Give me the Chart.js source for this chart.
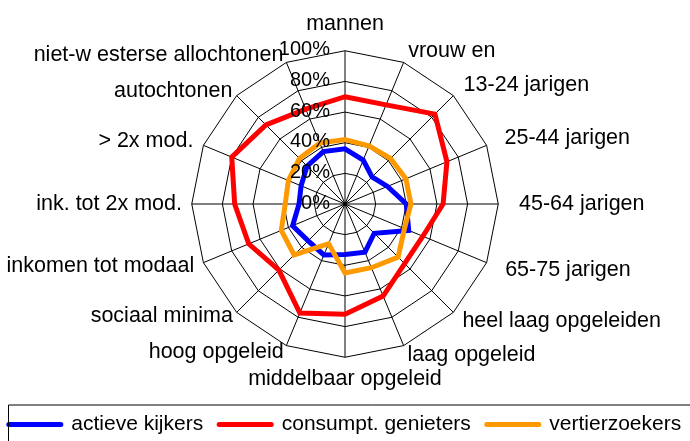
<!DOCTYPE html>
<html>
<head>
<meta charset="utf-8">
<script src="https://cdn.jsdelivr.net/npm/chart.js@4.4.1/dist/chart.umd.min.js"></script>
<style>
  html, body { margin: 0; padding: 0; background: #fff; overflow: hidden; width: 690px; height: 441px; }
  #wrap { position: absolute; left: -45px; top: 0; width: 780px; height: 445px; }
</style>
</head>
<body>
<div id="wrap"><canvas id="c" width="780" height="445"></canvas></div>
<script>
const categories = [
  'mannen', 'vrouw en', '13-24 jarigen', '25-44 jarigen', '45-64 jarigen', '65-75 jarigen',
  'heel laag opgeleiden', 'laag opgeleid', 'middelbaar opgeleid', 'hoog opgeleid',
  'sociaal minima', 'inkomen tot modaal', 'ink. tot 2x mod.', '> 2x mod.',
  'autochtonen', 'niet-w esterse allochtonen'
];
const seriesNames = ['actieve kijkers', 'consumpt. genieters', 'vertierzoekers'];
const actieveKijkers     = [36, 31, 25, 30, 40, 45, 27, 34, 33, 36, 34, 37, 30, 31, 35, 37];
const consumptGenieters  = [70, 70, 83, 72, 64, 55, 55, 65, 72, 77, 61, 68, 72, 80, 73, 67];
const vertierzoekers     = [42, 41, 42, 43, 43, 42, 49, 45, 45, 28, 47, 45, 39, 40, 42, 43];
const tickValues = [0, 20, 40, 60, 80, 100];
const tickLabels = ['0%', '20%', '40%', '60%', '80%', '100%'];

const FONT = "'Liberation Sans', Arial, sans-serif";
Chart.defaults.font.family = FONT;
Chart.defaults.color = '#000';

// label placement styling (per category, clockwise from top)
const labelPadding = [13.35, 11.75, 14.5, 19.4, 20.75, 20.1, 12.75, 10.25, 2.7, 6.75, 5.35, 9.95, 9.75, 10.85, 6.05, 7.65];
const labelLineHeight = ['27.4px', '0.2px', '0.2px', '0.2px', '0.2px', '0.2px', '0.2px', '0.2px', '38px', '0.2px', '0.2px', '0.2px', '0.2px', '0.2px', '0.2px', '0.2px'];

const tickLabelPlugin = {
  id: 'tickLabelPlugin',
  afterDatasetsDraw(chart) {
    const s = chart.scales.r;
    const ctx = chart.ctx;
    ctx.save();
    ctx.font = '20px ' + FONT;
    ctx.fillStyle = '#000';
    ctx.textAlign = 'right';
    ctx.textBaseline = 'middle';
    tickValues.forEach((v, i) => {
      const d = s.getDistanceFromCenterForValue(v);
      ctx.fillText(tickLabels[i], s.xCenter - 15, s.yCenter - d - 1);
    });
    ctx.restore();
  }
};

const legendBoxPlugin = {
  id: 'legendBoxPlugin',
  afterDraw(chart) {
    const ctx = chart.ctx;
    ctx.save();
    ctx.strokeStyle = '#000';
    ctx.lineWidth = 1;
    ctx.beginPath();
    ctx.moveTo(53.5, 460);
    ctx.lineTo(53.5, 405);
    ctx.lineTo(800, 405);
    ctx.stroke();
    ctx.restore();
  }
};

const colors = ['#0000FF', '#FF0000', '#FF9900'];
const seriesData = [actieveKijkers, consumptGenieters, vertierzoekers];

new Chart(document.getElementById('c'), {
  type: 'radar',
  data: {
    labels: categories,
    datasets: seriesNames.map((name, i) => ({
      label: name,
      data: seriesData[i],
      borderColor: colors[i],
      backgroundColor: colors[i],
      borderWidth: 5,
      borderJoinStyle: 'miter',
      fill: false,
      pointRadius: 0,
      pointHoverRadius: 0,
      tension: 0,
      order: 3 - i
    }))
  },
  options: {
    responsive: false,
    devicePixelRatio: 1,
    animation: false,
    events: [],
    layout: { padding: { top: 10, left: 0, right: 0, bottom: 0 } },
    scales: {
      r: {
        min: 0,
        max: 100,
        beginAtZero: true,
        ticks: { display: false, stepSize: 20 },
        grid: { circular: false, color: '#000', lineWidth: 1 },
        angleLines: { display: true, color: '#000', lineWidth: 1 },
        pointLabels: {
          display: true,
          color: '#000',
          padding: (ctx) => labelPadding[ctx.index],
          font: (ctx) => ({ family: FONT, size: 21.5, lineHeight: labelLineHeight[ctx.index] })
        }
      }
    },
    plugins: {
      tooltip: { enabled: false },
      legend: {
        display: true,
        position: 'bottom',
        labels: {
          color: '#000',
          font: { size: 21, family: FONT },
          usePointStyle: true,
          pointStyleWidth: 52,
          padding: 16,
          generateLabels(chart) {
            return chart.data.datasets.map((ds, i) => ({
              text: ds.label,
              fillStyle: ds.borderColor,
              strokeStyle: ds.borderColor,
              lineWidth: 5,
              lineCap: 'round',
              pointStyle: 'line',
              rotation: 0,
              hidden: false,
              fontColor: '#000',
              datasetIndex: i
            }));
          }
        }
      }
    }
  },
  plugins: [tickLabelPlugin, legendBoxPlugin]
});
</script>
</body>
</html>
